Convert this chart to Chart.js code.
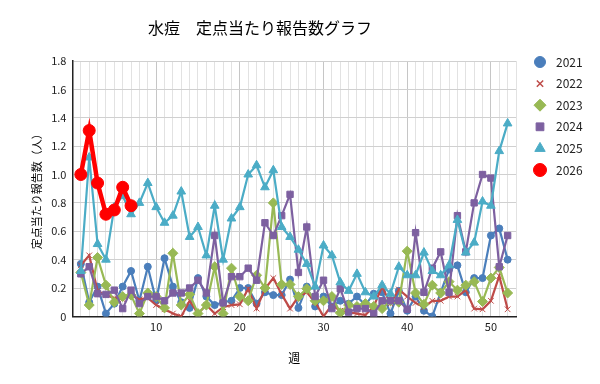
<!DOCTYPE html>
<html>
<head>
<meta charset="utf-8">
<script src="https://cdn.jsdelivr.net/npm/chart.js@4.4.1/dist/chart.umd.min.js"></script>
<style>
  html, body { margin: 0; padding: 0; background: #fff; }
  #wrap { width: 600px; height: 384px; }
</style>
</head>
<body>
<div id="wrap"><canvas id="chart"></canvas></div>
<script>
// weeks (x axis categories)
const weeks = [1,2,3,4,5,6,7,8,9,10,11,12,13,14,15,16,17,18,19,20,21,22,23,24,25,26,
  27,28,29,30,31,32,33,34,35,36,37,38,39,40,41,42,43,44,45,46,47,48,49,50,51,52];

// values, per year
const v2021 = [0.37,0.10,0.21,0.02,0.09,0.21,0.32,0.11,0.35,0.11,0.41,0.21,0.10,0.06,0.27,0.14,0.08,0.10,0.11,0.20,
  0.20,0.09,0.17,0.15,0.15,0.26,0.06,0.21,0.07,0.14,0.07,0.11,0.09,0.14,0.08,0.16,0.17,0.02,0.18,0.04,
  0.14,0.04,0.00,0.17,0.33,0.36,0.17,0.27,0.27,0.57,0.62,0.40];
const v2022 = [0.36,0.43,0.18,0.15,0.13,0.12,0.15,0.12,0.13,0.08,0.05,0.02,0.00,0.11,0.02,0.08,0.02,0.065,0.08,0.085,
  0.195,0.055,0.195,0.27,0.155,0.055,0.14,0.17,0.10,0.00,0.08,0.04,0.03,0.02,0.01,0.07,0.21,0.09,0.19,0.14,
  0.095,0.065,0.11,0.11,0.14,0.14,0.185,0.055,0.05,0.11,0.285,0.05];
const v2023 = [0.31,0.08,0.415,0.22,0.10,0.14,0.15,0.02,0.165,0.14,0.06,0.445,0.08,0.155,0.02,0.08,0.35,0.02,0.34,0.14,
  0.11,0.29,0.20,0.80,0.225,0.225,0.14,0.195,0.11,0.11,0.14,0.025,0.08,0.07,0.09,0.07,0.055,0.11,0.10,0.46,
  0.165,0.085,0.22,0.165,0.245,0.185,0.22,0.245,0.105,0.27,0.345,0.165];
const v2024 = [0.30,0.35,0.16,0.155,0.185,0.055,0.185,0.09,0.14,0.14,0.11,0.165,0.165,0.20,0.255,0.165,0.57,0.095,0.28,0.28,
  0.34,0.255,0.66,0.57,0.71,0.86,0.31,0.63,0.14,0.255,0.055,0.195,0.03,0.055,0.055,0.02,0.11,0.11,0.11,0.05,
  0.59,0.17,0.34,0.455,0.17,0.71,0.455,0.80,1.00,0.975,0.35,0.57];
const v2025 = [0.32,1.12,0.51,0.40,0.77,0.85,0.72,0.80,0.94,0.77,0.66,0.71,0.88,0.56,0.63,0.43,0.78,0.40,0.69,0.77,
  1.00,1.065,0.91,1.03,0.63,0.56,0.47,0.37,0.21,0.50,0.43,0.24,0.18,0.30,0.17,0.14,0.22,0.16,0.35,0.29,
  0.29,0.45,0.32,0.29,0.36,0.68,0.45,0.52,0.81,0.78,1.165,1.36];
const v2026 = [1.00,1.31,0.94,0.72,0.75,0.91,0.78];

const yearLabels = ['2021', '2022', '2023', '2024', '2025', '2026'];
const chartTitle = '水痘　定点当たり報告数グラフ';

const fontFamily = "'Noto Sans CJK JP', 'Noto Sans', sans-serif";

function toPoints(values) {
    return values.map((v, i) => ({x: weeks[i], y: v}));
}

function makeSeries(label, values, color, style, radius, width, order, legendRadius) {
    return {
        label: label,
        data: toPoints(values),
        borderColor: color,
        backgroundColor: color,
        borderWidth: width,
        pointStyle: style,
        pointRadius: radius,
        pointHoverRadius: radius,
        pointBorderWidth: 1,
        pointBorderColor: color,
        pointBackgroundColor: color,
        tension: 0,
        order: order, // later years drawn on top
        legendRadius: legendRadius
    };
}

const datasets = [
    makeSeries(yearLabels[0], v2021, '#4A7EBB', 'circle', 3.5, 2.2, 6, 5.5),
    makeSeries(yearLabels[1], v2022, '#BE4B48', 'crossRot', 4, 2.2, 5, 4.5),
    makeSeries(yearLabels[2], v2023, '#98B954', 'rectRot', 5, 2.2, 4, 6),
    makeSeries(yearLabels[3], v2024, '#7D60A0', 'rect', 4.5, 2.2, 3, 5.5),
    makeSeries(yearLabels[4], v2025, '#4BACC6', 'triangle', 5, 2.2, 2, 6),
    makeSeries(yearLabels[5], v2026, '#FF0000', 'circle', 6, 4.5, 1, 6.5)
];

// title + legend drawn by hand so they sit where the original puts them
const sideLegend = {
    id: 'sideLegend',
    afterDraw(chart) {
        const ctx = chart.ctx;
        ctx.save();
        ctx.fillStyle = '#000';
        ctx.font = '16px ' + fontFamily;
        ctx.textAlign = 'center';
        ctx.textBaseline = 'middle';
        ctx.fillText(chartTitle, 260, 28);

        chart.data.datasets.forEach((ds, i) => {
            const y = 62 + i * 21.6;
            ctx.fillStyle = ds.backgroundColor;
            ctx.strokeStyle = ds.borderColor;
            ctx.lineWidth = ds.pointStyle === 'crossRot' ? 1.5 : 1;
            Chart.helpers.drawPoint(ctx, {pointStyle: ds.pointStyle, radius: ds.legendRadius, borderWidth: 1, rotation: 0}, 540, y);
            ctx.fillStyle = '#222';
            ctx.font = '12px ' + fontFamily;
            ctx.textAlign = 'left';
            ctx.fillText(ds.label, 556, y);
        });
        ctx.restore();
    }
};

Chart.defaults.font.family = fontFamily;
Chart.defaults.color = '#222';

new Chart(document.getElementById('chart').getContext('2d'), {
    type: 'line',
    data: { datasets: datasets },
    plugins: [sideLegend],
    options: {
        responsive: true,
        maintainAspectRatio: false,
        animation: false,
        layout: { padding: { left: 30, right: 84, top: 61, bottom: 18 } },
        plugins: {
            title: { display: false },
            legend: { display: false },
            tooltip: { enabled: false }
        },
        scales: {
            x: {
                type: 'linear',
                min: 0,
                max: 53,
                ticks: {
                    stepSize: 1,
                    autoSkip: false,
                    maxRotation: 0,
                    padding: 4,
                    font: { size: 11 },
                    callback: (value) => (value > 0 && value % 10 === 0) ? String(value) : ''
                },
                grid: {
                    drawTicks: false,
                    color: (ctx) => (ctx.tick && ctx.tick.value % 10 === 0) ? '#C6C6C6' : '#E2E2E2',
                    lineWidth: 1
                },
                border: { color: '#222', width: 1.5 },
                title: {
                    display: true,
                    text: '週',
                    color: '#000',
                    font: { size: 12 },
                    padding: { top: 14, bottom: 0 }
                }
            },
            y: {
                min: 0,
                max: 1.8,
                ticks: {
                    stepSize: 0.2,
                    padding: 6,
                    font: { size: 11 }
                },
                grid: {
                    drawTicks: false,
                    color: '#D0D0D0',
                    lineWidth: 1
                },
                border: { color: '#222', width: 1.5 },
                title: {
                    display: true,
                    text: '定点当たり報告数（人）',
                    color: '#000',
                    font: { size: 11 },
                    padding: { top: 0, bottom: 2 }
                }
            }
        }
    }
});
</script>
</body>
</html>
